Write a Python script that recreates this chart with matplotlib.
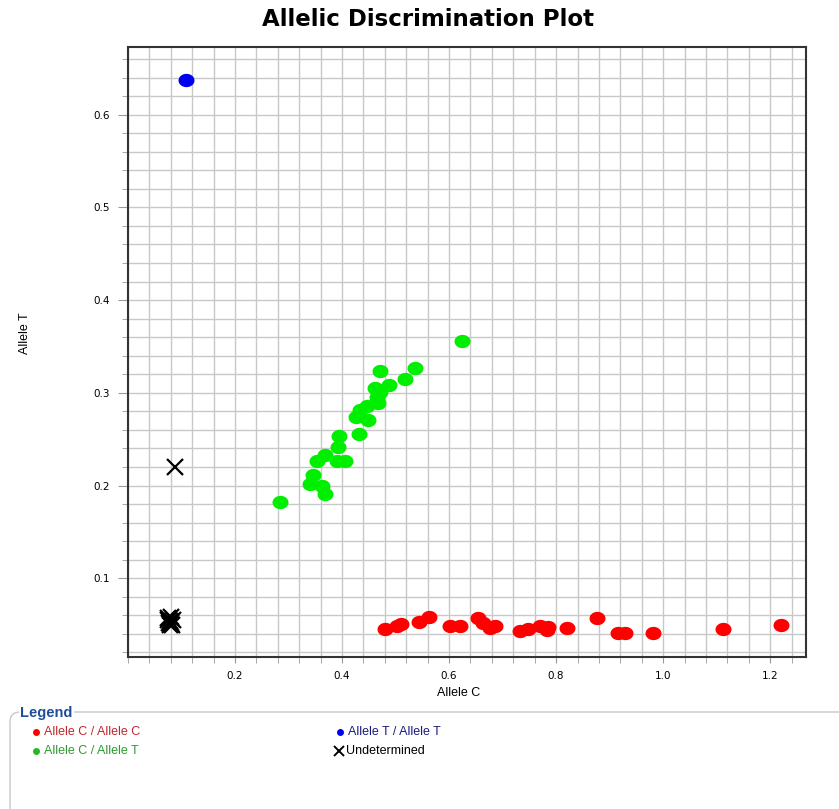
import matplotlib
matplotlib.use("Agg")
import matplotlib.pyplot as plt
import numpy as np
from matplotlib.path import Path
from matplotlib.lines import Line2D
from matplotlib.patches import FancyBboxPatch
from matplotlib.ticker import MultipleLocator, FixedLocator

plt.rcParams['font.family'] = ['Liberation Sans', 'DejaVu Sans']

# Allele C / Allele C (red)
cc_x = [0.480, 0.503, 0.510, 0.544, 0.563, 0.602, 0.620, 0.654, 0.663, 0.676,
        0.685, 0.733, 0.748, 0.770, 0.783, 0.785, 0.820, 0.876, 0.916, 0.929,
        0.981, 1.112, 1.220]
cc_y = [0.045, 0.048, 0.051, 0.053, 0.058, 0.048, 0.048, 0.057, 0.052, 0.046,
        0.048, 0.043, 0.045, 0.049, 0.044, 0.047, 0.046, 0.057, 0.041, 0.041,
        0.041, 0.045, 0.050]

# Allele C / Allele T (green)
ct_x = [0.284, 0.340, 0.346, 0.362, 0.368, 0.353, 0.368, 0.390, 0.406, 0.393,
        0.395, 0.432, 0.427, 0.449, 0.434, 0.446, 0.468, 0.462, 0.471, 0.487,
        0.465, 0.471, 0.518, 0.536, 0.624]
ct_y = [0.182, 0.202, 0.211, 0.200, 0.191, 0.227, 0.233, 0.227, 0.227, 0.242,
        0.253, 0.256, 0.274, 0.271, 0.281, 0.286, 0.289, 0.305, 0.301, 0.308,
        0.296, 0.324, 0.315, 0.327, 0.356]

# Allele T / Allele T (blue)
tt_x = [0.108]
tt_y = [0.637]

# Undetermined
und_x = [0.088, 0.074, 0.080, 0.084, 0.076, 0.079, 0.083, 0.075, 0.081, 0.078]
und_y = [0.220, 0.057, 0.058, 0.055, 0.052, 0.054, 0.050, 0.055, 0.052, 0.050]

x_ticks = [0.2, 0.4, 0.6, 0.8, 1.0, 1.2]
y_ticks = [0.1, 0.2, 0.3, 0.4, 0.5, 0.6]

legend_labels = ["Allele C / Allele C", "Allele C / Allele T",
                 "Allele T / Allele T", "Undetermined"]

# slightly flattened dot like the original software draws
t = np.linspace(0, 2 * np.pi, 60)
ellipse = Path(np.column_stack([1.2 * np.cos(t), np.sin(t)]), closed=True)

W, H = 839, 809
fig = plt.figure(figsize=(W / 100, H / 100), dpi=100)
ax = fig.add_axes([128 / W, 1 - 657 / H, (806 - 128) / W, (657 - 47) / H])

ax.set_xlim(0.0, 1.267)
ax.set_ylim(0.0151, 0.673)
ax.xaxis.set_major_locator(FixedLocator(x_ticks))
ax.xaxis.set_minor_locator(MultipleLocator(0.04))
ax.yaxis.set_major_locator(FixedLocator(y_ticks))
ax.yaxis.set_minor_locator(MultipleLocator(0.02))
ax.set_xticklabels(["%.1f" % v for v in x_ticks], family='DejaVu Sans', fontsize=7.5)
ax.set_yticklabels(["%.1f" % v for v in y_ticks], family='DejaVu Sans', fontsize=7.5)
ax.grid(True, which='both', color='#c8c8c8', linewidth=1.0)
ax.set_axisbelow(True)
ax.tick_params(which='both', direction='out', color='#9a9a9a')
ax.tick_params(axis='y', which='major', length=7, pad=6)
ax.tick_params(axis='y', which='minor', length=4)
ax.tick_params(axis='x', which='both', length=4, pad=6)
for s in ax.spines.values():
    s.set_color('#333333')
    s.set_linewidth(1.5)

ax.plot(cc_x, cc_y, linestyle='none', marker=ellipse, ms=11.5, color='#ff0000', mec='none')
ax.plot(ct_x, ct_y, linestyle='none', marker=ellipse, ms=11.5, color='#00ee00', mec='none')
ax.plot(tt_x, tt_y, linestyle='none', marker=ellipse, ms=11.5, color='#0000ee', mec='none')
ax.plot(und_x, und_y, linestyle='none', marker='x', ms=11, mew=1.6, color='black')

ax.set_xlabel("Allele C", fontsize=9)
ax.xaxis.set_label_coords((459 - 128) / (806 - 128), -(687 - 657) / (657 - 47))
ax.set_ylabel("Allele T", fontsize=9)
ax.yaxis.set_label_coords(-(128 - 31) / (806 - 128), (657 - 333) / (657 - 47))

fig.text(428.5 / W, 1 - 20 / H, "Allelic Discrimination Plot", ha='center', va='center',
         fontsize=16.5, fontweight='bold', family='DejaVu Sans')

# legend panel at the bottom
frame = FancyBboxPatch((10 / W, -0.05), 1.05, 0.05 + 1 - 712 / H,
                       boxstyle='round,pad=0,rounding_size=0.012',
                       transform=fig.transFigure, facecolor='white',
                       edgecolor='#c8c8c8', linewidth=1.0)
fig.add_artist(frame)
fig.text(20 / W, 1 - 713 / H, "Legend", ha='left', va='center', fontsize=10.5,
         fontweight='bold', color='#1f4e9c',
         bbox=dict(facecolor='white', edgecolor='none', pad=1))

items = [
    (36, 732, 'o', '#ff0000', legend_labels[0], '#c0262c'),
    (36, 751, 'o', '#22bb22', legend_labels[1], '#2e9a2e'),
    (340, 732, 'o', '#0000ee', legend_labels[2], '#1a1a80'),
    (339, 751, 'x', 'black', legend_labels[3], 'black'),
]
for px, py, mk, mc, lab, tc in items:
    if mk == 'x':
        fig.add_artist(Line2D([px / W], [1 - py / H], marker='x', ms=7, mew=1.4,
                              color=mc, transform=fig.transFigure))
        fig.text((px + 7) / W, 1 - py / H, lab, ha='left', va='center', fontsize=9, color=tc)
    else:
        fig.add_artist(Line2D([px / W], [1 - py / H], marker='o', ms=5,
                              color=mc, mec='none', transform=fig.transFigure))
        fig.text((px + 8) / W, 1 - py / H, lab, ha='left', va='center', fontsize=9, color=tc)

fig.savefig("out.png", dpi=100)
